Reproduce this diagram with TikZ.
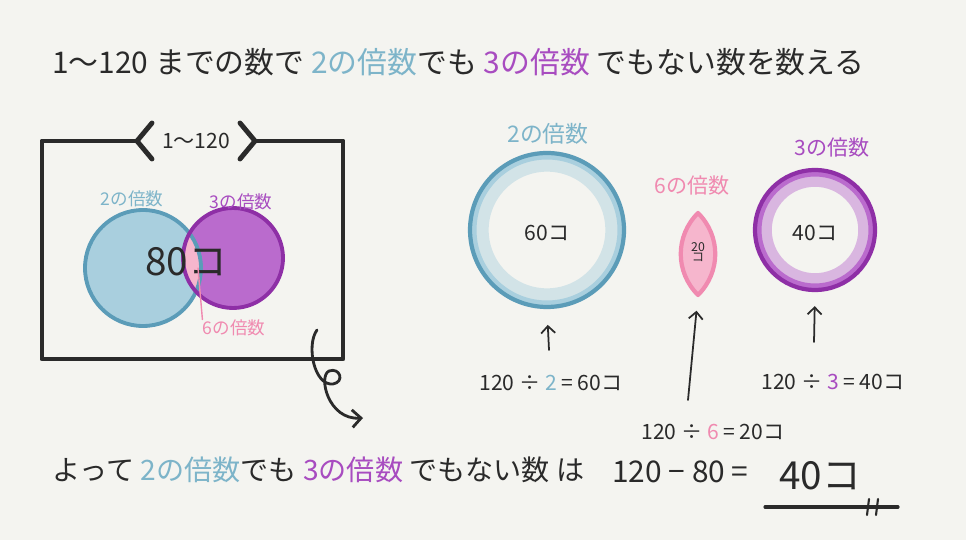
\documentclass[tikz,border=0pt]{standalone}
\usepackage{fontspec}
\setmainfont{Noto Sans CJK JP}
\usetikzlibrary{arrows.meta}

\definecolor{paper}{HTML}{F4F4F0}
\definecolor{ink}{HTML}{2A2A2A}
\definecolor{twoblue}{HTML}{7DB4C9}
\definecolor{twoline}{HTML}{5B9CB8}
\definecolor{twofill}{HTML}{A9CFDE}
\definecolor{threepurple}{HTML}{A84CC0}
\definecolor{threeline}{HTML}{8E2FA6}
\definecolor{threefill}{HTML}{BA6BCD}
\definecolor{sixpink}{HTML}{F08AB0}
\definecolor{sixfill}{HTML}{F6B6CD}

\tikzset{
  hand/.style={inner sep=0pt, text=ink},
  bigsize/.style={font=\fontsize{17}{20}\selectfont},
  midsize/.style={font=\fontsize{12}{14}\selectfont},
  smallsize/.style={font=\fontsize{10}{12}\selectfont},
  hugesize/.style={font=\fontsize{22}{26}\selectfont},
  penline/.style={ink, line width=2.8pt},
  upline/.style={ink, line width=1pt, -{Straight Barb[length=4pt,width=8pt]}},
}

\begin{document}
\begin{tikzpicture}[x=0.02cm, y=-0.02cm, line cap=round, line join=round]
\fill[paper] (0,0) rectangle (966,540);
\useasboundingbox (0,0) rectangle (966,540);

% title
\node[hand, bigsize, anchor=west] (title) at (52,62)
  {1〜120 までの数で {\color{twoblue}2の倍数}でも {\color{threepurple}3の倍数} でもない数を数える};

% range box
\draw[penline] (137,141) -- (42,141) -- (42,359) -- (343,359) -- (343,141) -- (255,141);
\draw[penline] (152,123) -- (137,141) -- (152,159);
\draw[penline] (240,123) -- (255,141) -- (240,159);
\node[hand, midsize] (range) at (196,141) {1〜120};

% venn
\fill[twofill] (143,268) circle[radius=58];
\fill[threefill] (233,258) circle[radius=50];
\begin{scope}
  \clip (143,268) circle[radius=58];
  \fill[sixfill] (233,258) circle[radius=50];
\end{scope}
\draw[twoline, line width=2.2pt] (143,268) circle[radius=58];
\draw[threeline, line width=2.2pt] (233,258) circle[radius=50];
\node[hand, smallsize, text=twoblue] (twotag) at (132,199) {2の倍数};
\node[hand, smallsize, text=threepurple] (threetag) at (241,202) {3の倍数};
\node[hand, hugesize] (eighty) at (186,262) {80コ};
\node[hand, smallsize, text=sixpink] (sixtag) at (234,328) {6の倍数};
\coordinate (sixpoint) at (198,268);
\draw[sixpink, line width=0.8pt] (sixpoint) -- (sixtag.north west);

% curly arrow down to the answer
\coordinate (curlstart) at (317,330);
\coordinate (curlend) at (363,418);
\draw[ink, line width=1.6pt, -{Straight Barb[length=5pt,width=10pt]}] (curlstart)
  .. controls (306,345) and (314,386) .. (333,384)
  .. controls (345,382) and (340,367) .. (329,371)
  .. controls (318,376) and (328,420) .. (curlend);

% multiples of 2
\fill[paper] (547,230) circle[radius=77];
\draw[twofill, opacity=0.45, line width=11pt] (547,230) circle[radius=68];
\draw[twofill, line width=4pt] (547,230) circle[radius=74];
\node[circle, draw=twoline, line width=2.4pt, minimum size=3.08cm, inner sep=0pt] (twoset) at (547,230) {};
\node[hand, midsize] (sixty) at (547,233) {60コ};
\node[hand, font=\fontsize{13}{15}\selectfont, text=twoblue] (twohead) at (548,134) {2の倍数};

% multiples of 6
\coordinate (lenstop) at (698,213);
\coordinate (lensbot) at (698,295);
\filldraw[draw=sixpink, fill=sixfill, line width=2.4pt] (lenstop)
  .. controls (675,236) and (675,272) .. (lensbot)
  .. controls (721,272) and (721,236) .. (lenstop);
\node[hand, font=\fontsize{7}{7}\selectfont, align=center] (twenty) at (698,252) {20\\[-1pt]コ};
\node[hand, font=\fontsize{12}{14}\selectfont, text=sixpink] (sixhead) at (692,186) {6の倍数};

% multiples of 3
\fill[paper] (815,230) circle[radius=60];
\draw[threefill, opacity=0.45, line width=10pt] (815,230) circle[radius=52];
\draw[threefill, line width=4pt] (815,230) circle[radius=57];
\node[circle, draw=threeline, line width=2.4pt, minimum size=2.4cm, inner sep=0pt] (threeset) at (815,230) {};
\node[hand, midsize] (forty) at (815,233) {40コ};
\node[hand, font=\fontsize{12}{14}\selectfont, text=threepurple] (threehead) at (832,148) {3の倍数};

% counts
\node[hand, midsize] (eqtwo) at (551,383) {120 ÷ {\color{twoblue}2} = 60コ};
\node[hand, midsize] (eqsix) at (713,432) {120 ÷ {\color{sixpink}6} = 20コ};
\node[hand, midsize] (eqthree) at (833,382) {120 ÷ {\color{threepurple}3} = 40コ};
\coordinate (twofoot) at (549,350);
\coordinate (sixfoot) at (688,400);
\coordinate (threefoot) at (814,342);
\draw[upline, shorten >=9pt] (twofoot) -- (twoset.south);
\draw[upline, shorten >=9pt] (sixfoot) -- (lensbot);
\draw[upline, shorten >=8pt] (threefoot) -- (threeset.south);

% answer
\node[hand, font=\fontsize{16}{19}\selectfont, anchor=west] (answer) at (52,470)
  {よって {\color{twoblue}2の倍数}でも {\color{threepurple}3の倍数} でもない数 は};
\node[hand, bigsize, anchor=west] (calc) at (612,472) {120 − 80 =};
\node[hand, hugesize] (result) at (820,476) {40コ};
\coordinate (underl) at (765,507);
\coordinate (underr) at (898,507);
\draw[ink, line width=1.8pt] (underl) -- (underr);
\draw[ink, line width=1.2pt] (869,499) -- (867,515);
\draw[ink, line width=1.2pt] (878,499) -- (876,515);
\end{tikzpicture}
\end{document}
